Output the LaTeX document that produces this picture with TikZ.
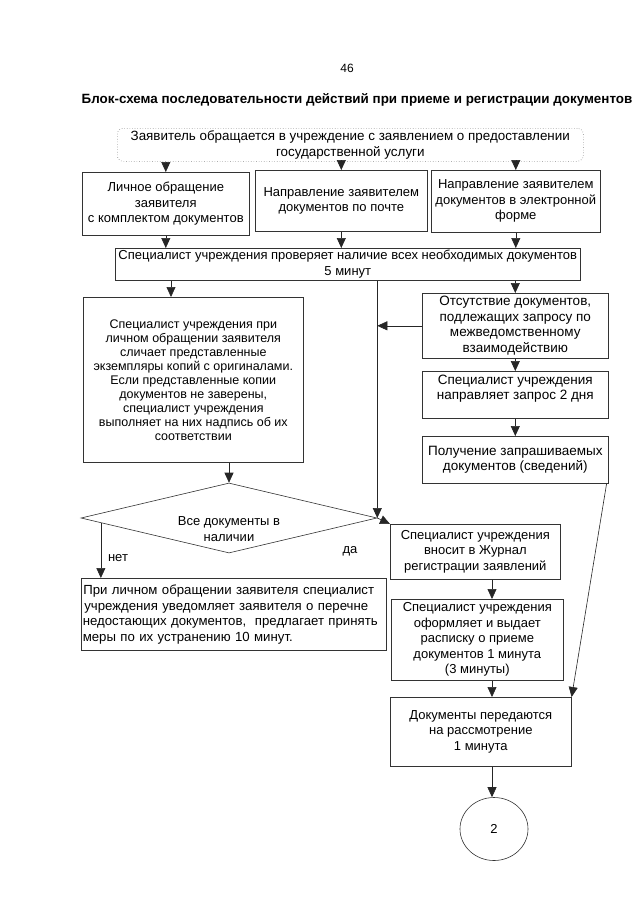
\documentclass[tikz,border=0pt]{standalone}
\usepackage{fontspec}
\setmainfont{Liberation Sans}
\usetikzlibrary{arrows.meta,shapes.geometric,calc}
\newcommand\fsA{\fontsize{13}{15.5}\selectfont}
\newcommand\fsB{\fontsize{12.5}{14}\selectfont}
\newcommand\fsC{\fontsize{13.5}{15.5}\selectfont}
\newcommand\fsD{\fontsize{13.2}{15.5}\selectfont}
\begin{document}
\begin{tikzpicture}[x=1pt,y=-1pt,
  box/.style={draw=black!80, line width=0.6pt, align=center, inner sep=1pt, anchor=north west, font=\fsA},
  arr/.style={draw=black!85, line width=0.6pt, -{Triangle[width=9pt,length=10pt]}},
  lbl/.style={font=\fsA, inner sep=0pt},
]
\useasboundingbox[fill=white] (0,0) rectangle (640,905);

\node[font=\fontsize{12}{14}\selectfont] (page) at (347,68) {46};
\node[font=\bfseries\fontsize{13.4}{15}\selectfont] (title) at (357,100)
  {Блок-схема последовательности действий при приеме и регистрации документов};

\node[box, font=\fontsize{13.4}{15.5}\selectfont, draw=black!50, dotted, rounded corners=6pt, minimum width=466pt, minimum height=33pt] (top) at (117,128)
  {Заявитель обращается в учреждение с заявлением о предоставлении\\государственной услуги};

\node[box, minimum width=167pt, minimum height=63pt] (b1) at (82,172)
  {Личное обращение\\заявителя\\с комплектом документов};
\node[box, minimum width=172pt, minimum height=61pt] (b2) at (255,170)
  {Направление заявителем\\документов по почте};
\node[box, minimum width=169pt, minimum height=62pt] (b3) at (431,170)
  {Направление заявителем\\документов в электронной\\форме};

\node[box, minimum width=465pt, minimum height=32pt] (check) at (115,248)
  {Специалист учреждения проверяет наличие всех необходимых документов\\5 минут};

\node[box, font=\fsB, minimum width=220pt, minimum height=165pt] (left) at (83,297)
  {Специалист учреждения при\\личном обращении заявителя\\сличает представленные\\экземпляры копий с оригиналами.\\Если представленные копии\\документов не заверены,\\специалист учреждения\\выполняет на них надпись об их\\соответствии};

\node[box, font=\fsC, minimum width=186pt, minimum height=65pt] (abs) at (422,293)
  {Отсутствие документов,\\подлежащих запросу по\\межведомственному\\взаимодействию};
\node[box, font=\fsC, minimum width=186pt, minimum height=47pt] (req) at (422,371)
  {Специалист учреждения\\направляет запрос 2 дня\\\mbox{}};
\node[box, font=\fsC, minimum width=186pt, minimum height=47pt] (get) at (422,436)
  {Получение запрашиваемых\\документов (сведений)};

\node[draw=black!80, line width=0.6pt, diamond, aspect=4.2, inner sep=0pt, minimum width=296pt, minimum height=70pt] (dia) at (229,518) {};
\node[lbl, align=center] (diat) at (229,529) {Все документы в\\наличии};

\node[lbl] (no) at (118,558) {нет};
\node[lbl] (yes) at (350,551) {да};

\node[box, align=left, font=\fsD, inner xsep=1.5pt, text width=302pt, minimum width=305pt, minimum height=72pt] (nobox) at (81,578)
  {\hspace{0.5pt}При личном обращении заявителя специалист\\\hspace{1.5pt}учреждения уведомляет заявителя о перечне\\недостающих документов,\ \ предлагает принять\\меры по их устранению 10 минут.};

\node[box, minimum width=170pt, minimum height=55pt] (reg) at (390,524)
  {Специалист учреждения\\вносит в Журнал\\регистрации заявлений};
\node[box, minimum width=172pt, minimum height=81pt] (issue) at (391,599)
  {Специалист учреждения\\оформляет и выдает\\расписку о приеме\\документов 1 минута\\(3 минуты)};
\node[box, minimum width=181pt, minimum height=69pt] (final) at (390,697)
  {Документы передаются\\на рассмотрение\\1 минута};
\node[draw=black!80, line width=0.6pt, ellipse, minimum width=68pt, minimum height=63pt, font=\fsA] (circ) at (494,829) {2};

\coordinate (xl) at (171,0);
\coordinate (xr) at (492,0);
\coordinate (nstart) at ($(dia.west)!0.136!(dia.south)$);

% arrows
\draw[arr] (top.south -| b1.north) -- (b1.north);
\draw[arr] (top.south -| b2.north) -- (b2.north);
\draw[arr] (top.south -| b3.north) -- (b3.north);
\draw[arr] (b1.south) -- (b1.south |- check.north);
\draw[arr] (b2.south) -- (b2.south |- check.north);
\draw[arr] (b3.south) -- (b3.south |- check.north);

\draw[arr] (check.south -| xl) -- (left.north -| xl);
\draw[arr] (check.south -| dia.east) -- (dia.east);
\draw[arr] (check.south -| abs.north) -- (abs.north);
\draw[arr] (abs.west) -- (abs.west -| dia.east);
\draw[arr] (abs.south) -- (req.north);
\draw[arr] (req.south) -- (get.north);

\draw[arr] (left.south -| dia.north) -- (dia.north);
\draw[arr] (nstart) -- (nstart |- nobox.north);
\draw[arr] (dia.east) -- (reg.north west);

\draw[arr] (reg.south -| xr) -- (issue.north -| xr);
\draw[arr] (issue.south -| xr) -- (final.north -| xr);
\draw[arr] ($(get.south east)+(-2,0)$) -- (final.north east);
\draw[arr] (final.south -| xr) -- (circ.north -| xr);
\end{tikzpicture}
\end{document}
